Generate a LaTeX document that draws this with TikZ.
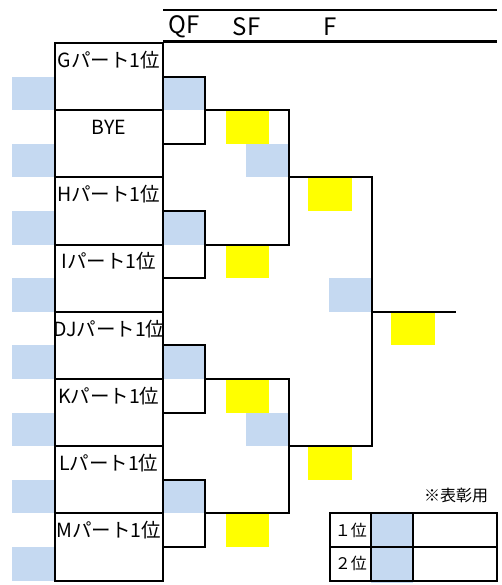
\documentclass[tikz,border=0pt]{standalone}
\usepackage{fontspec}
\setmainfont{Noto Sans CJK JP}
\definecolor{cellblue}{RGB}{197,217,241}
\definecolor{cellyellow}{RGB}{255,255,0}
\tikzset{
  bluecell/.style={fill=cellblue},
  yellowcell/.style={fill=cellyellow},
  bracket/.style={line width=2pt},
  entry/.style={font=\fontsize{19.5}{19.5}\selectfont, inner sep=0pt},
  roundhead/.style={font=\fontsize{24}{24}\selectfont, inner sep=0pt},
  prize/.style={font=\fontsize{16}{16}\selectfont, inner sep=0pt}
}
\begin{document}
\begin{tikzpicture}[x=1pt,y=-1pt]
\useasboundingbox (0,0) rectangle (501,585);
\fill [bluecell] (12,76.6) rectangle (54.5,110.2);
\fill [bluecell] (12,143.8) rectangle (54.5,177.4);
\fill [bluecell] (12,211) rectangle (54.5,244.6);
\fill [bluecell] (12,278.2) rectangle (54.5,311.8);
\fill [bluecell] (12,345.4) rectangle (54.5,379);
\fill [bluecell] (12,412.6) rectangle (54.5,446.2);
\fill [bluecell] (12,479.8) rectangle (54.5,513.4);
\fill [bluecell] (12,547) rectangle (54.5,580.6);
\fill [bluecell] (163,76.6) rectangle (205,110.2);
\fill [bluecell] (163,211) rectangle (205,244.6);
\fill [bluecell] (163,345.4) rectangle (205,379);
\fill [bluecell] (163,479.8) rectangle (205,513.4);
\fill [yellowcell] (225.5,110.2) rectangle (268.5,143.8);
\fill [yellowcell] (225.5,244.6) rectangle (268.5,278.2);
\fill [yellowcell] (225.5,379) rectangle (268.5,412.6);
\fill [yellowcell] (225.5,513.4) rectangle (268.5,547);
\fill [bluecell] (246,143.8) rectangle (289,177.4);
\fill [bluecell] (246,412.6) rectangle (289,446.2);
\fill [yellowcell] (308,177.4) rectangle (352,211);
\fill [yellowcell] (308,446.2) rectangle (352,479.8);
\fill [bluecell] (329,278.2) rectangle (372,311.8);
\fill [yellowcell] (391,311.8) rectangle (435,345.4);
\fill [bluecell] (371,513.4) rectangle (413,582.6);
\draw [line width=1.5pt] (163,10) -- (497,10);
\draw [line width=3pt] (163,42) -- (497,42);
\node [roundhead] (QFhead) at (184,27) {QF};
\node [roundhead] (SFhead) at (246.5,27) {SF};
\node [roundhead] (Fhead) at (330,27) {F};
\draw [bracket] (54.5,43) rectangle (163,580.6);
\draw [bracket] (54.5,110.2) -- (163,110.2);
\draw [bracket] (54.5,177.4) -- (163,177.4);
\draw [bracket] (54.5,244.6) -- (163,244.6);
\draw [bracket] (54.5,311.8) -- (163,311.8);
\draw [bracket] (54.5,379) -- (163,379);
\draw [bracket] (54.5,446.2) -- (163,446.2);
\draw [bracket] (54.5,513.4) -- (163,513.4);
\node [entry] (G) at (108.75,59.8) {Gパート1位};
\node [entry] (BYE) at (108.75,127) {BYE};
\node [entry] (H) at (108.75,194.2) {Hパート1位};
\node [entry] (I) at (108.75,261.4) {Iパート1位};
\node [entry] (DJ) at (109.5,328.6) {DJパート1位};
\node [entry] (K) at (108.75,395.8) {Kパート1位};
\node [entry] (L) at (108.75,463) {Lパート1位};
\node [entry] (M) at (108.75,530.2) {Mパート1位};
\coordinate (G1) at (163,76.6);
\coordinate (B1) at (163,143.8);
\coordinate (H1) at (163,211);
\coordinate (I1) at (163,278.2);
\coordinate (DJ1) at (163,345.4);
\coordinate (K1) at (163,412.6);
\coordinate (L1) at (163,479.8);
\coordinate (M1) at (163,547);
\coordinate (QF1) at (205,110.2);
\coordinate (QF2) at (205,244.6);
\coordinate (QF3) at (205,379);
\coordinate (QF4) at (205,513.4);
\coordinate (SF1) at (289,177.4);
\coordinate (SF2) at (289,446.2);
\coordinate (F1) at (372,311.8);
\coordinate (W) at (456,311.8);
\draw [bracket] (G1) -| (QF1) |- (B1);
\draw [bracket] (H1) -| (QF2) |- (I1);
\draw [bracket] (DJ1) -| (QF3) |- (K1);
\draw [bracket] (L1) -| (QF4) |- (M1);
\draw [bracket] (QF1) -| (SF1) |- (QF2);
\draw [bracket] (QF3) -| (SF2) |- (QF4);
\draw [bracket] (SF1) -| (F1) |- (SF2);
\draw [bracket] (F1) -- (W);
\node [prize] (note) at (456,495) {※表彰用};
\draw [bracket] (329.5,513.4) rectangle (497,580.6);
\draw [bracket] (329.5,547) -- (497,547);
\draw [bracket] (371,513.4) -- (371,580.6);
\draw [bracket] (413,513.4) -- (413,580.6);
\node [prize, anchor=east] (first) at (367,530.2) {１位};
\node [prize, anchor=east] (second) at (367,563.8) {２位};
\end{tikzpicture}
\end{document}
